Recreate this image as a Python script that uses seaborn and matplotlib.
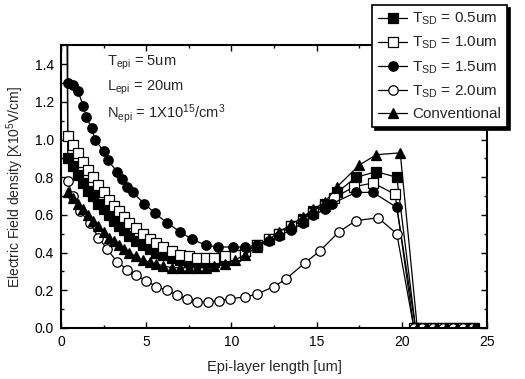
import numpy as np
import pandas as pd
import matplotlib
matplotlib.use("Agg")
import matplotlib.pyplot as plt
import seaborn as sns
from matplotlib.ticker import MultipleLocator

# ---------------- data ----------------
x_05 = [0.4, 0.4, 0.7, 1.0, 1.3, 1.6, 1.9, 2.2, 2.5, 2.8, 3.1, 3.4, 3.7, 4.0, 4.4, 4.8, 5.2, 5.6,
        6.0, 6.5, 7.0, 7.5, 8.0, 8.5, 9.0, 9.6, 10.2, 10.8, 11.5, 12.2, 12.8, 13.5, 14.2,
        14.8, 15.5, 16.2, 17.3, 18.5, 19.7, 20.8, 21.3, 21.9, 22.5, 23.1, 23.7, 24.2]
y_05 = [3.5, 0.90, 0.86, 0.81, 0.77, 0.73, 0.70, 0.66, 0.63, 0.60, 0.57, 0.54, 0.52, 0.49, 0.46,
        0.44, 0.42, 0.40, 0.39, 0.37, 0.36, 0.35, 0.35, 0.35, 0.35, 0.36, 0.38, 0.41, 0.44,
        0.47, 0.50, 0.54, 0.58, 0.62, 0.66, 0.72, 0.80, 0.83, 0.80, 0, 0, 0, 0, 0, 0, 0]

x_10 = [0.2, 0.4, 0.7, 1.0, 1.3, 1.6, 1.9, 2.2, 2.5, 2.8, 3.1, 3.4, 3.7, 4.0, 4.4, 4.8, 5.2, 5.6,
        6.0, 6.5, 7.0, 7.5, 8.0, 8.5, 9.0, 9.6, 10.2, 10.8, 11.5, 12.2, 12.8, 13.5, 14.2,
        14.8, 15.5, 16.0, 17.2, 18.3, 19.6, 20.7, 21.2, 21.8, 22.4, 23.0, 23.6, 24.1]
y_10 = [3.5, 1.02, 0.97, 0.93, 0.88, 0.84, 0.80, 0.76, 0.72, 0.68, 0.65, 0.62, 0.59, 0.56, 0.53,
        0.50, 0.47, 0.45, 0.43, 0.41, 0.39, 0.38, 0.37, 0.37, 0.37, 0.38, 0.39, 0.41, 0.44,
        0.47, 0.50, 0.54, 0.57, 0.61, 0.65, 0.69, 0.75, 0.77, 0.71, 0, 0, 0, 0, 0, 0, 0]

x_15 = [0.4, 0.7, 1.0, 1.3, 1.5, 1.8, 2.0, 2.5, 2.75, 3.3, 3.6, 3.9, 4.2, 4.9, 5.5, 6.2, 7.0,
        7.7, 8.5, 9.2, 10.1, 10.8, 11.5, 12.2, 12.8, 13.5, 14.2, 14.8, 15.5, 15.9, 17.3,
        18.3, 19.7, 20.8, 21.3, 21.9, 22.5, 23.1, 23.7, 24.2]
y_15 = [1.30, 1.29, 1.26, 1.18, 1.12, 1.06, 1.00, 0.94, 0.89, 0.83, 0.79, 0.75, 0.72, 0.66,
        0.61, 0.56, 0.51, 0.47, 0.44, 0.43, 0.43, 0.43, 0.44, 0.46, 0.49, 0.52, 0.56, 0.60,
        0.63, 0.66, 0.72, 0.72, 0.64, 0, 0, 0, 0, 0, 0, 0]

x_20 = [0.4, 0.7, 1.1, 1.7, 2.2, 2.7, 3.3, 3.9, 4.4, 5.0, 5.6, 6.2, 6.8, 7.4, 8.0, 8.6, 9.3,
        9.9, 10.8, 11.5, 12.5, 13.2, 14.3, 15.2, 16.3, 17.3, 18.6, 19.7, 20.7, 21.2, 21.8,
        22.4, 23.0, 23.6, 24.1]
y_20 = [0.78, 0.70, 0.62, 0.56, 0.48, 0.42, 0.35, 0.31, 0.28, 0.25, 0.22, 0.20, 0.175, 0.155,
        0.14, 0.14, 0.145, 0.155, 0.165, 0.18, 0.22, 0.26, 0.345, 0.41, 0.51, 0.57, 0.585,
        0.50, 0, 0, 0, 0, 0, 0, 0]

x_conv = [0.4, 0.7, 1.0, 1.3, 1.6, 1.9, 2.2, 2.5, 2.8, 3.1, 3.4, 3.7, 4.0, 4.4, 4.8, 5.2, 5.6,
          6.0, 6.5, 7.0, 7.5, 8.0, 8.5, 9.0, 9.6, 10.2, 10.8, 11.5, 12.2, 12.8, 13.5, 14.2,
          14.8, 15.5, 16.2, 17.5, 18.5, 19.9, 20.9, 21.4, 22.0, 22.6, 23.2, 23.8, 24.2]
y_conv = [0.72, 0.69, 0.66, 0.63, 0.60, 0.57, 0.54, 0.51, 0.48, 0.46, 0.44, 0.42, 0.40, 0.38,
          0.36, 0.35, 0.34, 0.33, 0.32, 0.32, 0.32, 0.32, 0.32, 0.33, 0.34, 0.36, 0.39, 0.43,
          0.47, 0.51, 0.55, 0.59, 0.63, 0.67, 0.75, 0.865, 0.92, 0.93, 0, 0, 0, 0, 0, 0, 0]

labels = [r"T$_{\mathregular{SD}}$ = 0.5um", r"T$_{\mathregular{SD}}$ = 1.0um",
          r"T$_{\mathregular{SD}}$ = 1.5um", r"T$_{\mathregular{SD}}$ = 2.0um", "Conventional"]
x_ticks = [0, 5, 10, 15, 20, 25]
y_ticks = [0.0, 0.2, 0.4, 0.6, 0.8, 1.0, 1.2, 1.4]

# ---------------- style ----------------
sns.set_style("ticks")
plt.rcParams["font.family"] = ["Liberation Sans", "DejaVu Sans"]
plt.rcParams["mathtext.fontset"] = "custom"
plt.rcParams["mathtext.rm"] = "Liberation Sans"
plt.rcParams["mathtext.it"] = "Liberation Sans"

fig = plt.figure(figsize=(5.25, 3.79), dpi=100)
ax = fig.add_axes([0.116, 0.1346, 0.812, 0.7454])

series = [(x_05, y_05, "s", "black"), (x_10, y_10, "s", "white"),
          (x_15, y_15, "o", "black"), (x_20, y_20, "o", "white"),
          (x_conv, y_conv, "^", "black")]
for (xs, ys, mk, fc), lab in zip(series, labels):
    df = pd.DataFrame({"x": xs, "y": ys})
    sns.lineplot(data=df, x="x", y="y", ax=ax, sort=False, estimator=None,
                 color="black", linewidth=0.9, marker=mk, markersize=7.5 if mk == "^" else 6.8,
                 markerfacecolor=fc, markeredgecolor="black", markeredgewidth=0.9,
                 label=lab)

ax.set_xlim(0, 25)
ax.set_ylim(0, 1.5)
ax.set_xticks(x_ticks)
ax.set_yticks(y_ticks)
ax.set_yticklabels([f"{v:.1f}" for v in y_ticks])
ax.xaxis.set_minor_locator(MultipleLocator(2.5))
ax.yaxis.set_minor_locator(MultipleLocator(0.1))
ax.tick_params(which="both", direction="in", top=True, right=True, width=1.0,
               labelsize=10, colors="black")
ax.tick_params(which="major", length=4, pad=5)
ax.tick_params(which="minor", length=2.5)
for s in ax.spines.values():
    s.set_linewidth(1.5)
    s.set_color("black")

ax.set_xlabel("Epi-layer length [um]", fontsize=10.5, labelpad=8)
ax.set_ylabel(r"Electric Field density [X10$^{\mathregular{5}}$V/cm]", fontsize=10, labelpad=6)

ax.text(2.7, 1.41, r"T$_{\mathregular{epi}}$ = 5um", fontsize=10.5, va="center")
ax.text(2.7, 1.275, r"L$_{\mathregular{epi}}$ = 20um", fontsize=10.5, va="center")
ax.text(2.7, 1.14, r"N$_{\mathregular{epi}}$ = 1X10$^{\mathregular{15}}$/cm$^{\mathregular{3}}$",
        fontsize=10.5, va="center")

leg = ax.legend(loc="upper left", bbox_to_anchor=(0.709, 0.987), bbox_transform=fig.transFigure,
                fontsize=11, frameon=True, fancybox=False,
                shadow={"color": "black", "alpha": 1.0}, framealpha=1,
                edgecolor="black", handlelength=1.9, handletextpad=0.3, labelspacing=0.5,
                borderpad=0.4, borderaxespad=0)
leg.get_frame().set_linewidth(1.2)

fig.savefig("out.png", dpi=100)
